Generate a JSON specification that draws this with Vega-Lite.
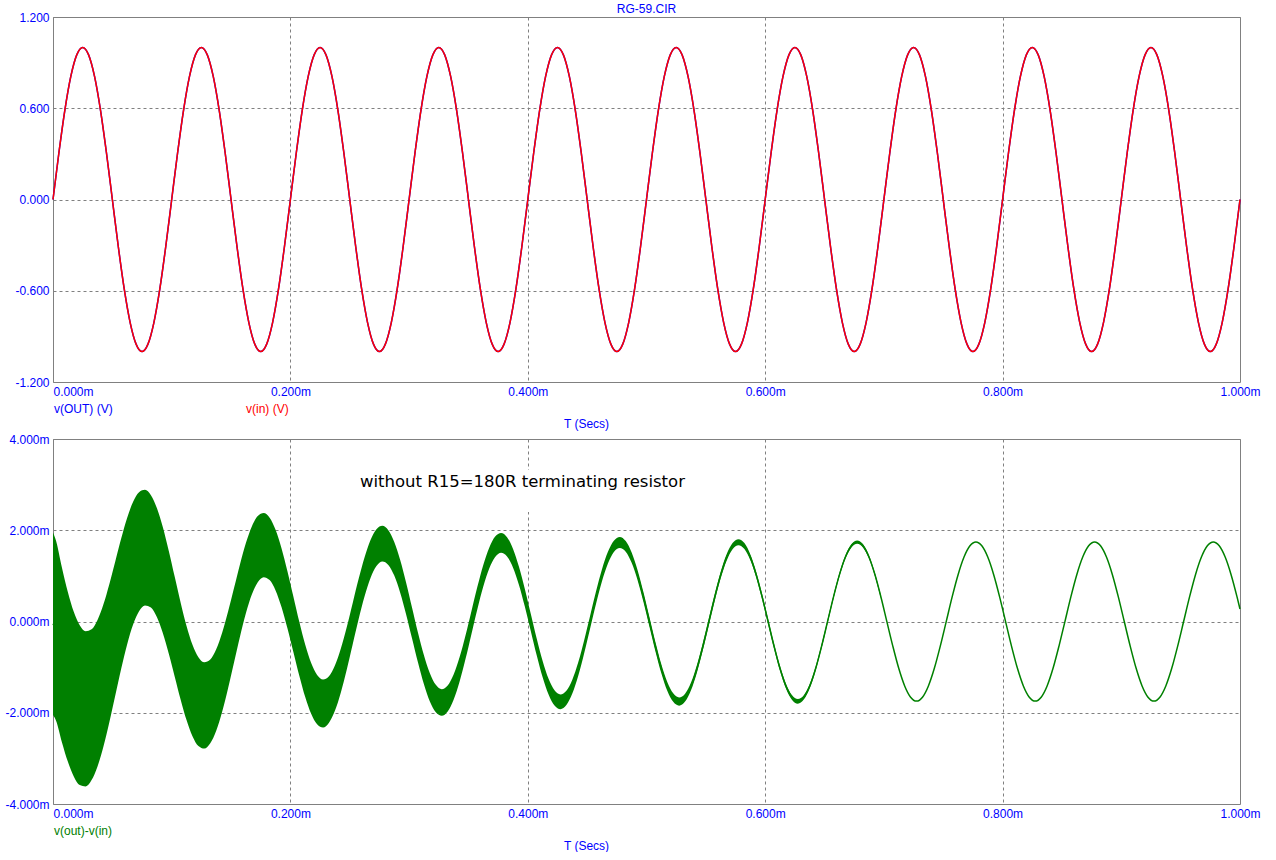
{
"$schema": "https://vega.github.io/schema/vega-lite/v6.json",
"background": "white",
"padding": {"left": 4, "top": 2, "right": 0, "bottom": 0},
"config": {
  "view": {"stroke": "#808080", "strokeWidth": 1},
  "axis": {"labelFont": "Liberation Sans", "labelFontSize": 12, "labelColor": "#0000FF", "titleFont": "Liberation Sans", "titleFontSize": 12, "titleColor": "#0000FF", "titleFontWeight": "normal", "ticks": false, "domain": false, "gridColor": "#808080", "gridDash": [3, 3], "gridOpacity": 1, "gridWidth": 1, "labelPadding": 4},
  "legend": {"orient": "none", "legendX": -11, "legendY": 386, "direction": "horizontal", "symbolSize": 0, "symbolOpacity": 0, "symbolStrokeWidth": 0, "labelOffset": 0, "labelFont": "Liberation Sans", "labelFontSize": 12, "columnPadding": 121, "padding": 0, "title": null},
  "title": {"font": "Liberation Sans", "fontSize": 12, "fontWeight": "normal", "color": "#0000FF"}
},
"datasets": {
"top": [
{"t":0,"vin":0,"vout":0},{"t":0.005,"vin":0.309,"vout":0.309},{"t":0.01,"vin":0.588,"vout":0.588},{"t":0.015,"vin":0.809,"vout":0.809},{"t":0.02,"vin":0.951,"vout":0.951},{"t":0.025,"vin":1,"vout":1},{"t":0.03,"vin":0.951,"vout":0.951},{"t":0.035,"vin":0.809,"vout":0.809},{"t":0.04,"vin":0.588,"vout":0.588},{"t":0.045,"vin":0.309,"vout":0.309},{"t":0.05,"vin":0,"vout":0},{"t":0.055,"vin":-0.309,"vout":-0.309},{"t":0.06,"vin":-0.588,"vout":-0.588},{"t":0.065,"vin":-0.809,"vout":-0.809},{"t":0.07,"vin":-0.951,"vout":-0.951},{"t":0.075,"vin":-1,"vout":-1},{"t":0.08,"vin":-0.951,"vout":-0.951},{"t":0.085,"vin":-0.809,"vout":-0.809},{"t":0.09,"vin":-0.588,"vout":-0.588},{"t":0.095,"vin":-0.309,"vout":-0.309},
{"t":0.1,"vin":0,"vout":0},{"t":0.105,"vin":0.309,"vout":0.309},{"t":0.11,"vin":0.588,"vout":0.588},{"t":0.115,"vin":0.809,"vout":0.809},{"t":0.12,"vin":0.951,"vout":0.951},{"t":0.125,"vin":1,"vout":1},{"t":0.13,"vin":0.951,"vout":0.951},{"t":0.135,"vin":0.809,"vout":0.809},{"t":0.14,"vin":0.588,"vout":0.588},{"t":0.145,"vin":0.309,"vout":0.309},{"t":0.15,"vin":0,"vout":0},{"t":0.155,"vin":-0.309,"vout":-0.309},{"t":0.16,"vin":-0.588,"vout":-0.588},{"t":0.165,"vin":-0.809,"vout":-0.809},{"t":0.17,"vin":-0.951,"vout":-0.951},{"t":0.175,"vin":-1,"vout":-1},{"t":0.18,"vin":-0.951,"vout":-0.951},{"t":0.185,"vin":-0.809,"vout":-0.809},{"t":0.19,"vin":-0.588,"vout":-0.588},{"t":0.195,"vin":-0.309,"vout":-0.309},
{"t":0.2,"vin":0,"vout":0},{"t":0.205,"vin":0.309,"vout":0.309},{"t":0.21,"vin":0.588,"vout":0.588},{"t":0.215,"vin":0.809,"vout":0.809},{"t":0.22,"vin":0.951,"vout":0.951},{"t":0.225,"vin":1,"vout":1},{"t":0.23,"vin":0.951,"vout":0.951},{"t":0.235,"vin":0.809,"vout":0.809},{"t":0.24,"vin":0.588,"vout":0.588},{"t":0.245,"vin":0.309,"vout":0.309},{"t":0.25,"vin":0,"vout":0},{"t":0.255,"vin":-0.309,"vout":-0.309},{"t":0.26,"vin":-0.588,"vout":-0.588},{"t":0.265,"vin":-0.809,"vout":-0.809},{"t":0.27,"vin":-0.951,"vout":-0.951},{"t":0.275,"vin":-1,"vout":-1},{"t":0.28,"vin":-0.951,"vout":-0.951},{"t":0.285,"vin":-0.809,"vout":-0.809},{"t":0.29,"vin":-0.588,"vout":-0.588},{"t":0.295,"vin":-0.309,"vout":-0.309},
{"t":0.3,"vin":0,"vout":0},{"t":0.305,"vin":0.309,"vout":0.309},{"t":0.31,"vin":0.588,"vout":0.588},{"t":0.315,"vin":0.809,"vout":0.809},{"t":0.32,"vin":0.951,"vout":0.951},{"t":0.325,"vin":1,"vout":1},{"t":0.33,"vin":0.951,"vout":0.951},{"t":0.335,"vin":0.809,"vout":0.809},{"t":0.34,"vin":0.588,"vout":0.588},{"t":0.345,"vin":0.309,"vout":0.309},{"t":0.35,"vin":0,"vout":0},{"t":0.355,"vin":-0.309,"vout":-0.309},{"t":0.36,"vin":-0.588,"vout":-0.588},{"t":0.365,"vin":-0.809,"vout":-0.809},{"t":0.37,"vin":-0.951,"vout":-0.951},{"t":0.375,"vin":-1,"vout":-1},{"t":0.38,"vin":-0.951,"vout":-0.951},{"t":0.385,"vin":-0.809,"vout":-0.809},{"t":0.39,"vin":-0.588,"vout":-0.588},{"t":0.395,"vin":-0.309,"vout":-0.309},
{"t":0.4,"vin":0,"vout":0},{"t":0.405,"vin":0.309,"vout":0.309},{"t":0.41,"vin":0.588,"vout":0.588},{"t":0.415,"vin":0.809,"vout":0.809},{"t":0.42,"vin":0.951,"vout":0.951},{"t":0.425,"vin":1,"vout":1},{"t":0.43,"vin":0.951,"vout":0.951},{"t":0.435,"vin":0.809,"vout":0.809},{"t":0.44,"vin":0.588,"vout":0.588},{"t":0.445,"vin":0.309,"vout":0.309},{"t":0.45,"vin":0,"vout":0},{"t":0.455,"vin":-0.309,"vout":-0.309},{"t":0.46,"vin":-0.588,"vout":-0.588},{"t":0.465,"vin":-0.809,"vout":-0.809},{"t":0.47,"vin":-0.951,"vout":-0.951},{"t":0.475,"vin":-1,"vout":-1},{"t":0.48,"vin":-0.951,"vout":-0.951},{"t":0.485,"vin":-0.809,"vout":-0.809},{"t":0.49,"vin":-0.588,"vout":-0.588},{"t":0.495,"vin":-0.309,"vout":-0.309},
{"t":0.5,"vin":0,"vout":0},{"t":0.505,"vin":0.309,"vout":0.309},{"t":0.51,"vin":0.588,"vout":0.588},{"t":0.515,"vin":0.809,"vout":0.809},{"t":0.52,"vin":0.951,"vout":0.951},{"t":0.525,"vin":1,"vout":1},{"t":0.53,"vin":0.951,"vout":0.951},{"t":0.535,"vin":0.809,"vout":0.809},{"t":0.54,"vin":0.588,"vout":0.588},{"t":0.545,"vin":0.309,"vout":0.309},{"t":0.55,"vin":0,"vout":0},{"t":0.555,"vin":-0.309,"vout":-0.309},{"t":0.56,"vin":-0.588,"vout":-0.588},{"t":0.565,"vin":-0.809,"vout":-0.809},{"t":0.57,"vin":-0.951,"vout":-0.951},{"t":0.575,"vin":-1,"vout":-1},{"t":0.58,"vin":-0.951,"vout":-0.951},{"t":0.585,"vin":-0.809,"vout":-0.809},{"t":0.59,"vin":-0.588,"vout":-0.588},{"t":0.595,"vin":-0.309,"vout":-0.309},
{"t":0.6,"vin":0,"vout":0},{"t":0.605,"vin":0.309,"vout":0.309},{"t":0.61,"vin":0.588,"vout":0.588},{"t":0.615,"vin":0.809,"vout":0.809},{"t":0.62,"vin":0.951,"vout":0.951},{"t":0.625,"vin":1,"vout":1},{"t":0.63,"vin":0.951,"vout":0.951},{"t":0.635,"vin":0.809,"vout":0.809},{"t":0.64,"vin":0.588,"vout":0.588},{"t":0.645,"vin":0.309,"vout":0.309},{"t":0.65,"vin":0,"vout":0},{"t":0.655,"vin":-0.309,"vout":-0.309},{"t":0.66,"vin":-0.588,"vout":-0.588},{"t":0.665,"vin":-0.809,"vout":-0.809},{"t":0.67,"vin":-0.951,"vout":-0.951},{"t":0.675,"vin":-1,"vout":-1},{"t":0.68,"vin":-0.951,"vout":-0.951},{"t":0.685,"vin":-0.809,"vout":-0.809},{"t":0.69,"vin":-0.588,"vout":-0.588},{"t":0.695,"vin":-0.309,"vout":-0.309},
{"t":0.7,"vin":0,"vout":0},{"t":0.705,"vin":0.309,"vout":0.309},{"t":0.71,"vin":0.588,"vout":0.588},{"t":0.715,"vin":0.809,"vout":0.809},{"t":0.72,"vin":0.951,"vout":0.951},{"t":0.725,"vin":1,"vout":1},{"t":0.73,"vin":0.951,"vout":0.951},{"t":0.735,"vin":0.809,"vout":0.809},{"t":0.74,"vin":0.588,"vout":0.588},{"t":0.745,"vin":0.309,"vout":0.309},{"t":0.75,"vin":0,"vout":0},{"t":0.755,"vin":-0.309,"vout":-0.309},{"t":0.76,"vin":-0.588,"vout":-0.588},{"t":0.765,"vin":-0.809,"vout":-0.809},{"t":0.77,"vin":-0.951,"vout":-0.951},{"t":0.775,"vin":-1,"vout":-1},{"t":0.78,"vin":-0.951,"vout":-0.951},{"t":0.785,"vin":-0.809,"vout":-0.809},{"t":0.79,"vin":-0.588,"vout":-0.588},{"t":0.795,"vin":-0.309,"vout":-0.309},
{"t":0.8,"vin":0,"vout":0},{"t":0.805,"vin":0.309,"vout":0.309},{"t":0.81,"vin":0.588,"vout":0.588},{"t":0.815,"vin":0.809,"vout":0.809},{"t":0.82,"vin":0.951,"vout":0.951},{"t":0.825,"vin":1,"vout":1},{"t":0.83,"vin":0.951,"vout":0.951},{"t":0.835,"vin":0.809,"vout":0.809},{"t":0.84,"vin":0.588,"vout":0.588},{"t":0.845,"vin":0.309,"vout":0.309},{"t":0.85,"vin":0,"vout":0},{"t":0.855,"vin":-0.309,"vout":-0.309},{"t":0.86,"vin":-0.588,"vout":-0.588},{"t":0.865,"vin":-0.809,"vout":-0.809},{"t":0.87,"vin":-0.951,"vout":-0.951},{"t":0.875,"vin":-1,"vout":-1},{"t":0.88,"vin":-0.951,"vout":-0.951},{"t":0.885,"vin":-0.809,"vout":-0.809},{"t":0.89,"vin":-0.588,"vout":-0.588},{"t":0.895,"vin":-0.309,"vout":-0.309},
{"t":0.9,"vin":0,"vout":0},{"t":0.905,"vin":0.309,"vout":0.309},{"t":0.91,"vin":0.588,"vout":0.588},{"t":0.915,"vin":0.809,"vout":0.809},{"t":0.92,"vin":0.951,"vout":0.951},{"t":0.925,"vin":1,"vout":1},{"t":0.93,"vin":0.951,"vout":0.951},{"t":0.935,"vin":0.809,"vout":0.809},{"t":0.94,"vin":0.588,"vout":0.588},{"t":0.945,"vin":0.309,"vout":0.309},{"t":0.95,"vin":0,"vout":0},{"t":0.955,"vin":-0.309,"vout":-0.309},{"t":0.96,"vin":-0.588,"vout":-0.588},{"t":0.965,"vin":-0.809,"vout":-0.809},{"t":0.97,"vin":-0.951,"vout":-0.951},{"t":0.975,"vin":-1,"vout":-1},{"t":0.98,"vin":-0.951,"vout":-0.951},{"t":0.985,"vin":-0.809,"vout":-0.809},{"t":0.99,"vin":-0.588,"vout":-0.588},{"t":0.995,"vin":-0.309,"vout":-0.309},
{"t":1,"vin":0,"vout":0}
],
"bot": [
{"t":0,"mid":-0.05,"hi":1.95,"lo":-2.05},
{"t":0.0025,"mid":-0.197,"hi":1.774,"lo":-2.168},{"t":0.0075,"mid":-0.73,"hi":1.183,"lo":-2.644},{"t":0.0125,"mid":-1.212,"hi":0.646,"lo":-3.07},{"t":0.0175,"mid":-1.592,"hi":0.212,"lo":-3.396},{"t":0.0225,"mid":-1.834,"hi":-0.082,"lo":-3.586},{"t":0.0275,"mid":-1.915,"hi":-0.214,"lo":-3.616},{"t":0.0325,"mid":-1.824,"hi":-0.172,"lo":-3.476},{"t":0.0375,"mid":-1.572,"hi":0.032,"lo":-3.176},{"t":0.0425,"mid":-1.182,"hi":0.376,"lo":-2.74},{"t":0.0475,"mid":-0.69,"hi":0.823,"lo":-2.203},{"t":0.0525,"mid":-0.147,"hi":1.322,"lo":-1.616},{"t":0.0575,"mid":0.396,"hi":1.822,"lo":-1.03},{"t":0.0625,"mid":0.888,"hi":2.273,"lo":-0.498},{"t":0.0675,"mid":1.278,"hi":2.623,"lo":-0.068},{"t":0.0725,"mid":1.528,"hi":2.834,"lo":0.222},{"t":0.0775,"mid":1.618,"hi":2.886,"lo":0.35},{"t":0.0825,"mid":1.536,"hi":2.767,"lo":0.305},{"t":0.0875,"mid":1.293,"hi":2.488,"lo":0.097},{"t":0.0925,"mid":0.91,"hi":2.071,"lo":-0.251},{"t":0.0975,"mid":0.426,"hi":1.553,"lo":-0.701},
{"t":0.1025,"mid":-0.109,"hi":0.985,"lo":-1.203},{"t":0.1075,"mid":-0.645,"hi":0.418,"lo":-1.708},{"t":0.1125,"mid":-1.129,"hi":-0.097,"lo":-2.161},{"t":0.1175,"mid":-1.512,"hi":-0.51,"lo":-2.514},{"t":0.1225,"mid":-1.756,"hi":-0.783,"lo":-2.729},{"t":0.1275,"mid":-1.84,"hi":-0.894,"lo":-2.785},{"t":0.1325,"mid":-1.751,"hi":-0.834,"lo":-2.668},{"t":0.1375,"mid":-1.501,"hi":-0.61,"lo":-2.392},{"t":0.1425,"mid":-1.113,"hi":-0.247,"lo":-1.978},{"t":0.1475,"mid":-0.623,"hi":0.217,"lo":-1.463},{"t":0.1525,"mid":-0.082,"hi":0.734,"lo":-0.898},{"t":0.1575,"mid":0.46,"hi":1.252,"lo":-0.332},{"t":0.1625,"mid":0.949,"hi":1.718,"lo":0.18},{"t":0.1675,"mid":1.337,"hi":2.084,"lo":0.59},{"t":0.1725,"mid":1.587,"hi":2.312,"lo":0.861},{"t":0.1775,"mid":1.675,"hi":2.379,"lo":0.971},{"t":0.1825,"mid":1.591,"hi":2.275,"lo":0.907},{"t":0.1875,"mid":1.346,"hi":2.01,"lo":0.682},{"t":0.1925,"mid":0.962,"hi":1.607,"lo":0.316},{"t":0.1975,"mid":0.476,"hi":1.102,"lo":-0.15},
{"t":0.2025,"mid":-0.061,"hi":0.547,"lo":-0.669},{"t":0.2075,"mid":-0.598,"hi":-0.008,"lo":-1.188},{"t":0.2125,"mid":-1.083,"hi":-0.51,"lo":-1.656},{"t":0.2175,"mid":-1.468,"hi":-0.912,"lo":-2.024},{"t":0.2225,"mid":-1.713,"hi":-1.173,"lo":-2.253},{"t":0.2275,"mid":-1.798,"hi":-1.272,"lo":-2.323},{"t":0.2325,"mid":-1.71,"hi":-1.201,"lo":-2.219},{"t":0.2375,"mid":-1.462,"hi":-0.966,"lo":-1.957},{"t":0.2425,"mid":-1.074,"hi":-0.594,"lo":-1.554},{"t":0.2475,"mid":-0.586,"hi":-0.12,"lo":-1.052},{"t":0.2525,"mid":-0.045,"hi":0.408,"lo":-0.498},{"t":0.2575,"mid":0.495,"hi":0.935,"lo":0.055},{"t":0.2625,"mid":0.983,"hi":1.41,"lo":0.556},{"t":0.2675,"mid":1.371,"hi":1.786,"lo":0.955},{"t":0.2725,"mid":1.619,"hi":2.022,"lo":1.216},{"t":0.2775,"mid":1.706,"hi":2.097,"lo":1.315},{"t":0.2825,"mid":1.621,"hi":2.001,"lo":1.241},{"t":0.2875,"mid":1.375,"hi":1.744,"lo":1.006},{"t":0.2925,"mid":0.99,"hi":1.348,"lo":0.632},{"t":0.2975,"mid":0.504,"hi":0.852,"lo":0.156},
{"t":0.3025,"mid":-0.034,"hi":0.304,"lo":-0.372},{"t":0.3075,"mid":-0.572,"hi":-0.244,"lo":-0.9},{"t":0.3125,"mid":-1.058,"hi":-0.74,"lo":-1.376},{"t":0.3175,"mid":-1.443,"hi":-1.134,"lo":-1.752},{"t":0.3225,"mid":-1.689,"hi":-1.389,"lo":-1.989},{"t":0.3275,"mid":-1.774,"hi":-1.483,"lo":-2.065},{"t":0.3325,"mid":-1.687,"hi":-1.404,"lo":-1.97},{"t":0.3375,"mid":-1.44,"hi":-1.164,"lo":-1.715},{"t":0.3425,"mid":-1.053,"hi":-0.786,"lo":-1.32},{"t":0.3475,"mid":-0.565,"hi":-0.306,"lo":-0.824},{"t":0.3525,"mid":-0.025,"hi":0.227,"lo":-0.277},{"t":0.3575,"mid":0.515,"hi":0.759,"lo":0.271},{"t":0.3625,"mid":1.002,"hi":1.239,"lo":0.765},{"t":0.3675,"mid":1.389,"hi":1.619,"lo":1.159},{"t":0.3725,"mid":1.637,"hi":1.861,"lo":1.413},{"t":0.3775,"mid":1.723,"hi":1.94,"lo":1.506},{"t":0.3825,"mid":1.638,"hi":1.849,"lo":1.427},{"t":0.3875,"mid":1.392,"hi":1.597,"lo":1.186},{"t":0.3925,"mid":1.006,"hi":1.205,"lo":0.807},{"t":0.3975,"mid":0.52,"hi":0.713,"lo":0.327},
{"t":0.4025,"mid":-0.019,"hi":0.168,"lo":-0.206},{"t":0.4075,"mid":-0.557,"hi":-0.375,"lo":-0.739},{"t":0.4125,"mid":-1.044,"hi":-0.867,"lo":-1.221},{"t":0.4175,"mid":-1.429,"hi":-1.257,"lo":-1.601},{"t":0.4225,"mid":-1.676,"hi":-1.509,"lo":-1.843},{"t":0.4275,"mid":-1.761,"hi":-1.599,"lo":-1.923},{"t":0.4325,"mid":-1.675,"hi":-1.518,"lo":-1.832},{"t":0.4375,"mid":-1.427,"hi":-1.274,"lo":-1.58},{"t":0.4425,"mid":-1.041,"hi":-0.893,"lo":-1.189},{"t":0.4475,"mid":-0.553,"hi":-0.409,"lo":-0.697},{"t":0.4525,"mid":-0.014,"hi":0.126,"lo":-0.154},{"t":0.4575,"mid":0.525,"hi":0.661,"lo":0.389},{"t":0.4625,"mid":1.013,"hi":1.145,"lo":0.881},{"t":0.4675,"mid":1.399,"hi":1.527,"lo":1.271},{"t":0.4725,"mid":1.647,"hi":1.771,"lo":1.523},{"t":0.4775,"mid":1.733,"hi":1.854,"lo":1.612},{"t":0.4825,"mid":1.647,"hi":1.764,"lo":1.53},{"t":0.4875,"mid":1.401,"hi":1.515,"lo":1.287},{"t":0.4925,"mid":1.015,"hi":1.125,"lo":0.905},{"t":0.4975,"mid":0.528,"hi":0.635,"lo":0.421},
{"t":0.5025,"mid":-0.01,"hi":0.094,"lo":-0.114},{"t":0.5075,"mid":-0.549,"hi":-0.448,"lo":-0.65},{"t":0.5125,"mid":-1.036,"hi":-0.938,"lo":-1.134},{"t":0.5175,"mid":-1.422,"hi":-1.327,"lo":-1.517},{"t":0.5225,"mid":-1.668,"hi":-1.575,"lo":-1.761},{"t":0.5275,"mid":-1.754,"hi":-1.664,"lo":-1.844},{"t":0.5325,"mid":-1.668,"hi":-1.581,"lo":-1.755},{"t":0.5375,"mid":-1.421,"hi":-1.336,"lo":-1.506},{"t":0.5425,"mid":-1.034,"hi":-0.952,"lo":-1.116},{"t":0.5475,"mid":-0.547,"hi":-0.467,"lo":-0.627},{"t":0.5525,"mid":-0.008,"hi":0.07,"lo":-0.086},{"t":0.5575,"mid":0.532,"hi":0.607,"lo":0.457},{"t":0.5625,"mid":1.019,"hi":1.092,"lo":0.946},{"t":0.5675,"mid":1.405,"hi":1.476,"lo":1.334},{"t":0.5725,"mid":1.652,"hi":1.721,"lo":1.583},{"t":0.5775,"mid":1.738,"hi":1.805,"lo":1.671},{"t":0.5825,"mid":1.653,"hi":1.718,"lo":1.588},{"t":0.5875,"mid":1.406,"hi":1.469,"lo":1.343},{"t":0.5925,"mid":1.02,"hi":1.081,"lo":0.959},{"t":0.5975,"mid":0.533,"hi":0.593,"lo":0.473},
{"t":0.6025,"mid":-0.006,"hi":0.052,"lo":-0.064},{"t":0.6075,"mid":-0.545,"hi":-0.489,"lo":-0.601},{"t":0.6125,"mid":-1.031,"hi":-0.977,"lo":-1.085},{"t":0.6175,"mid":-1.417,"hi":-1.364,"lo":-1.47},{"t":0.6225,"mid":-1.664,"hi":-1.613,"lo":-1.715},{"t":0.6275,"mid":-1.75,"hi":-1.7,"lo":-1.8},{"t":0.6325,"mid":-1.664,"hi":-1.616,"lo":-1.712},{"t":0.6375,"mid":-1.417,"hi":-1.37,"lo":-1.464},{"t":0.6425,"mid":-1.031,"hi":-0.985,"lo":-1.077},{"t":0.6475,"mid":-0.543,"hi":-0.499,"lo":-0.587},{"t":0.6525,"mid":-0.004,"hi":0.039,"lo":-0.047},{"t":0.6575,"mid":0.535,"hi":0.577,"lo":0.493},{"t":0.6625,"mid":1.022,"hi":1.063,"lo":0.981},{"t":0.6675,"mid":1.408,"hi":1.447,"lo":1.369},{"t":0.6725,"mid":1.655,"hi":1.693,"lo":1.617},{"t":0.6775,"mid":1.741,"hi":1.778,"lo":1.704},{"t":0.6825,"mid":1.655,"hi":1.691,"lo":1.619},{"t":0.6875,"mid":1.409,"hi":1.444,"lo":1.374},{"t":0.6925,"mid":1.023,"hi":1.057,"lo":0.989},{"t":0.6975,"mid":0.536,"hi":0.569,"lo":0.503},
{"t":0.7025,"mid":-0.003},{"t":0.7075,"mid":-0.539},{"t":0.7125,"mid":-1.026},{"t":0.7175,"mid":-1.412},{"t":0.7225,"mid":-1.659},{"t":0.7275,"mid":-1.745},{"t":0.7325,"mid":-1.659},{"t":0.7375,"mid":-1.412},{"t":0.7425,"mid":-1.026},{"t":0.7475,"mid":-0.539},{"t":0.7525,"mid":-0.003},{"t":0.7575,"mid":0.539},{"t":0.7625,"mid":1.026},{"t":0.7675,"mid":1.412},{"t":0.7725,"mid":1.659},{"t":0.7775,"mid":1.745},{"t":0.7825,"mid":1.659},{"t":0.7875,"mid":1.412},{"t":0.7925,"mid":1.026},{"t":0.7975,"mid":0.539},
{"t":0.8025,"mid":-0.002},{"t":0.8075,"mid":-0.539},{"t":0.8125,"mid":-1.026},{"t":0.8175,"mid":-1.412},{"t":0.8225,"mid":-1.659},{"t":0.8275,"mid":-1.745},{"t":0.8325,"mid":-1.659},{"t":0.8375,"mid":-1.412},{"t":0.8425,"mid":-1.026},{"t":0.8475,"mid":-0.539},{"t":0.8525,"mid":-0.002},{"t":0.8575,"mid":0.539},{"t":0.8625,"mid":1.026},{"t":0.8675,"mid":1.412},{"t":0.8725,"mid":1.659},{"t":0.8775,"mid":1.745},{"t":0.8825,"mid":1.659},{"t":0.8875,"mid":1.412},{"t":0.8925,"mid":1.026},{"t":0.8975,"mid":0.539},
{"t":0.9025,"mid":-0.001},{"t":0.9075,"mid":-0.539},{"t":0.9125,"mid":-1.026},{"t":0.9175,"mid":-1.412},{"t":0.9225,"mid":-1.659},{"t":0.9275,"mid":-1.745},{"t":0.9325,"mid":-1.659},{"t":0.9375,"mid":-1.412},{"t":0.9425,"mid":-1.026},{"t":0.9475,"mid":-0.539},{"t":0.9525,"mid":-0.001},{"t":0.9575,"mid":0.539},{"t":0.9625,"mid":1.026},{"t":0.9675,"mid":1.412},{"t":0.9725,"mid":1.659},{"t":0.9775,"mid":1.745},{"t":0.9825,"mid":1.659},{"t":0.9875,"mid":1.412},{"t":0.9925,"mid":1.026},{"t":0.9975,"mid":0.539},
{"t":1,"mid":0.273}
],
"note": [{"t":0.3955,"v":3.06,"label":"without R15=180R terminating resistor"}],
"box": [{"t":0.26,"t2":0.54,"v1":2.4,"v2":3.32}]
},
"spacing": 57,
"bounds": "flush",
"resolve": {"scale": {"x": "independent", "y": "independent", "color": "independent"}, "legend": {"color": "independent"}},
"vconcat": [
{
  "width": 1187, "height": 365,
  "title": {"text": "RG-59.CIR", "anchor": "middle", "offset": -5},
  "data": {"name": "top"},
  "encoding": {
    "x": {"field": "t", "type": "quantitative", "scale": {"domain": [0, 1], "nice": false, "zero": false},
      "axis": {"values": [0, 0.2, 0.4, 0.6, 0.8, 1], "labelExpr": "format(datum.value, '.3f') + 'm'", "labelFlush": false,
        "labelAlign": {"condition": {"test": "datum.value == 0", "value": "left"}, "value": "center"},
        "title": "T (Secs)", "titleX": 533, "titleY": 45, "titleAlign": "center", "titleBaseline": "alphabetic"}}
  },
  "layer": [
    {"mark": {"type": "line", "interpolate": "monotone", "strokeWidth": 1.5},
     "encoding": {
       "y": {"field": "vout", "type": "quantitative", "scale": {"domain": [-1.2, 1.2], "nice": false, "zero": false},
         "axis": {"values": [-1.2, -0.6, 0, 0.6, 1.2], "labelExpr": "replace(format(datum.value, '.3f'), '\u2212', '-')", "title": null}},
       "color": {"datum": "v(OUT) (V)", "type": "nominal", "scale": {"domain": ["v(OUT) (V)", "v(in) (V)"], "range": ["#0000FF", "#FF0000"]},
         "legend": {"encode": {"labels": {"update": {"fill": {"signal": "datum.value === 'v(in) (V)' ? '#FF0000' : '#0000FF'"}}}}}}
     }},
    {"mark": {"type": "line", "interpolate": "monotone", "strokeWidth": 1.5},
     "encoding": {
       "y": {"field": "vin", "type": "quantitative", "scale": {"domain": [-1.2, 1.2], "nice": false, "zero": false},
         "axis": {"values": [-1.2, -0.6, 0, 0.6, 1.2], "labelExpr": "replace(format(datum.value, '.3f'), '\u2212', '-')", "title": null}},
       "color": {"datum": "v(in) (V)", "type": "nominal"}
     }}
  ]
},
{
  "width": 1187, "height": 365,
  "encoding": {
    "x": {"field": "t", "type": "quantitative", "scale": {"domain": [0, 1], "nice": false, "zero": false},
      "axis": {"values": [0, 0.2, 0.4, 0.6, 0.8, 1], "labelExpr": "format(datum.value, '.3f') + 'm'", "labelFlush": false,
        "labelAlign": {"condition": {"test": "datum.value == 0", "value": "left"}, "value": "center"},
        "title": "T (Secs)", "titleX": 533, "titleY": 45, "titleAlign": "center", "titleBaseline": "alphabetic"}}
  },
  "layer": [
    {"data": {"name": "box"},
     "mark": {"type": "rect", "fill": "white", "stroke": null},
     "encoding": {
       "x2": {"field": "t2"},
       "y": {"field": "v1", "type": "quantitative", "scale": {"domain": [-4, 4], "nice": false, "zero": false},
         "axis": {"values": [-4, -2, 0, 2, 4], "labelExpr": "replace(format(datum.value, '.3f'), '\u2212', '-') + 'm'", "title": null}},
       "y2": {"field": "v2"}
     }},
    {"data": {"name": "bot"},
     "transform": [{"filter": "isValid(datum.hi)"}],
     "mark": {"type": "area", "interpolate": "monotone", "opacity": 1},
     "encoding": {
       "y": {"field": "lo", "type": "quantitative", "scale": {"domain": [-4, 4], "nice": false, "zero": false},
         "axis": {"values": [-4, -2, 0, 2, 4], "labelExpr": "replace(format(datum.value, '.3f'), '\u2212', '-') + 'm'", "title": null}},
       "y2": {"field": "hi"},
       "color": {"datum": "v(out)-v(in)", "type": "nominal", "scale": {"domain": ["v(out)-v(in)"], "range": ["#008000"]},
         "legend": {"labelColor": "#008000"}}
     }},
    {"data": {"name": "bot"},
     "mark": {"type": "line", "interpolate": "monotone", "strokeWidth": 1.5},
     "encoding": {
       "y": {"field": "mid", "type": "quantitative", "scale": {"domain": [-4, 4], "nice": false, "zero": false},
         "axis": {"values": [-4, -2, 0, 2, 4], "labelExpr": "replace(format(datum.value, '.3f'), '\u2212', '-') + 'm'", "title": null}},
       "color": {"datum": "v(out)-v(in)", "type": "nominal"}
     }},
    {"data": {"name": "note"},
     "mark": {"type": "text", "font": "DejaVu Sans", "fontSize": 16.5, "color": "black", "align": "center", "baseline": "middle"},
     "encoding": {
       "y": {"field": "v", "type": "quantitative", "scale": {"domain": [-4, 4], "nice": false, "zero": false},
         "axis": {"values": [-4, -2, 0, 2, 4], "labelExpr": "replace(format(datum.value, '.3f'), '\u2212', '-') + 'm'", "title": null}},
       "text": {"field": "label"}
     }}
  ]
}
]
}
